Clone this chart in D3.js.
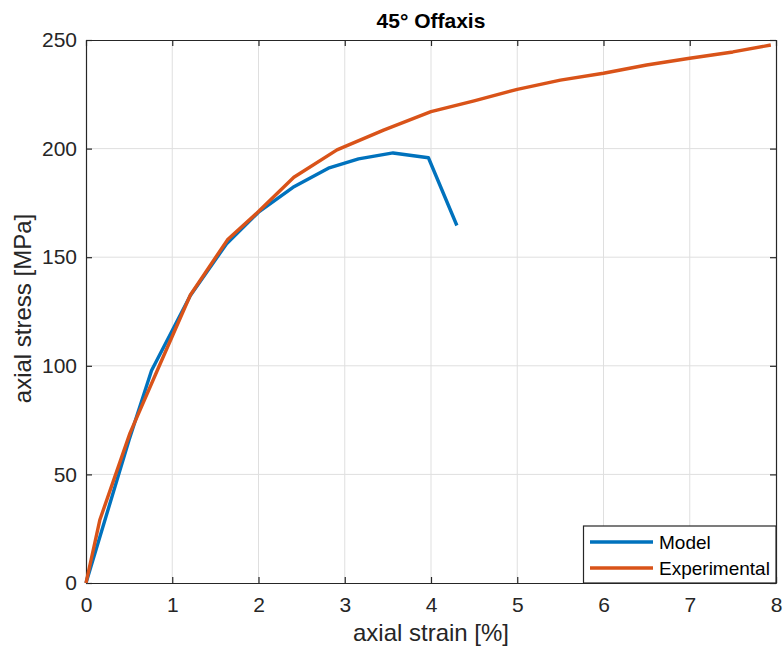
<!DOCTYPE html>
<html>
<head>
<meta charset="utf-8">
<script src="https://cdn.jsdelivr.net/npm/d3@7"></script>
<style>
  html, body { margin: 0; padding: 0; background: #fff; }
  svg { display: block; font-family: "Liberation Sans", Arial, Helvetica, sans-serif; }
</style>
</head>
<body>
<svg id="chart" width="783" height="652"></svg>
<script>
const title = "45° Offaxis";
const xLabel = "axial strain [%]";
const yLabel = "axial stress [MPa]";
const xTicks = [0, 1, 2, 3, 4, 5, 6, 7, 8];
const yTicks = [0, 50, 100, 150, 200, 250];
const seriesNames = ["Model", "Experimental"];
const seriesColors = ["#0072BD", "#D95319"];

const strainModel = [0, 0.5, 0.76, 1.21, 1.63, 2.0, 2.40, 2.81, 3.16, 3.56, 3.97, 4.30];
const stressModel = [0, 66, 97.8, 132.4, 156.2, 170.7, 182.2, 191, 195.3, 198, 195.8, 164.6];

const strainExp = [0, 0.16, 0.51, 0.85, 1.21, 1.64, 2.0, 2.41, 2.91, 3.45, 4.0, 4.5, 5.0, 5.5, 6.0, 6.5, 7.0, 7.5, 7.94];
const stressExp = [0, 29, 69, 100, 132.6, 158, 171, 186.8, 199.4, 208.5, 217, 222, 227.3, 231.5, 234.7, 238.5, 241.6, 244.5, 247.7];

(function () {
const svg = d3.select("#chart");
const mLeft = 86, mRight = 776, mTop = 40, mBottom = 583;
const axisColor = "#262626";

const x = d3.scaleLinear().domain([0, 8]).range([mLeft, mRight]);
const y = d3.scaleLinear().domain([0, 250]).range([mBottom, mTop]);

// grid
const grid = svg.append("g");
grid.selectAll("line.vx").data(xTicks.slice(1, -1)).enter().append("line")
  .attr("x1", d => x(d)).attr("x2", d => x(d)).attr("y1", mTop).attr("y2", mBottom)
  .attr("stroke", "#dfdfdf").attr("stroke-width", 1);
grid.selectAll("line.hy").data(yTicks.slice(1, -1)).enter().append("line")
  .attr("x1", mLeft).attr("x2", mRight).attr("y1", d => y(d)).attr("y2", d => y(d))
  .attr("stroke", "#dfdfdf").attr("stroke-width", 1);

// axes
const tickLen = 6;
const xAxis = svg.append("g").attr("transform", `translate(0,${mBottom})`)
  .call(d3.axisBottom(x).tickValues(xTicks).tickFormat(d3.format("d")).tickSizeInner(-tickLen).tickSizeOuter(0).tickPadding(14));
const xAxisTop = svg.append("g").attr("transform", `translate(0,${mTop})`)
  .call(d3.axisTop(x).tickValues(xTicks).tickFormat("").tickSizeInner(-tickLen).tickSizeOuter(0));
const yAxis = svg.append("g").attr("transform", `translate(${mLeft},0)`)
  .call(d3.axisLeft(y).tickValues(yTicks).tickFormat(d3.format("d")).tickSizeInner(-tickLen).tickSizeOuter(0).tickPadding(9));
const yAxisRight = svg.append("g").attr("transform", `translate(${mRight},0)`)
  .call(d3.axisRight(y).tickValues(yTicks).tickFormat("").tickSizeInner(-tickLen).tickSizeOuter(0));

[xAxis, xAxisTop, yAxis, yAxisRight].forEach(g => {
  g.select(".domain").attr("stroke", axisColor).attr("stroke-width", 1.2);
  g.selectAll(".tick line").attr("stroke", axisColor).attr("stroke-width", 1.2);
  g.selectAll(".tick text").attr("fill", axisColor).style("font-size", "21px").style("font-family", "'Liberation Sans', Arial, sans-serif");
});

// lines
const line = d3.line().x(d => x(d[0])).y(d => y(d[1]));
const model = strainModel.map((s, i) => [s, stressModel[i]]);
const exp = strainExp.map((s, i) => [s, stressExp[i]]);

svg.append("path").datum(model).attr("d", line)
  .attr("fill", "none").attr("stroke", seriesColors[0]).attr("stroke-width", 3.4).attr("stroke-linejoin", "round");
svg.append("path").datum(exp).attr("d", line)
  .attr("fill", "none").attr("stroke", seriesColors[1]).attr("stroke-width", 3.4).attr("stroke-linejoin", "round");

// title and labels
svg.append("text").attr("x", (mLeft + mRight) / 2).attr("y", 28).attr("text-anchor", "middle")
  .attr("fill", "#000").style("font-size", "21px").style("font-weight", "bold").text(title);
svg.append("text").attr("x", (mLeft + mRight) / 2).attr("y", 641).attr("text-anchor", "middle")
  .attr("fill", axisColor).style("font-size", "24px").text(xLabel);
svg.append("text").attr("transform", `translate(31,${(mTop + mBottom) / 2 - 3}) rotate(-90)`).attr("text-anchor", "middle")
  .attr("fill", axisColor).style("font-size", "24px").text(yLabel);

// legend
const lg = svg.append("g");
lg.append("rect").attr("x", 583.5).attr("y", 526).attr("width", 192.5).attr("height", 57)
  .attr("fill", "#fff").attr("stroke", axisColor).attr("stroke-width", 1.2);
seriesNames.forEach((name, i) => {
  const yy = 542 + i * 26;
  lg.append("line").attr("x1", 590).attr("x2", 653).attr("y1", yy).attr("y2", yy)
    .attr("stroke", seriesColors[i]).attr("stroke-width", 3.4);
  lg.append("text").attr("x", 659).attr("y", yy + 7).attr("fill", "#000")
    .style("font-size", "19px").text(name);
});
})();
</script>
</body>
</html>
